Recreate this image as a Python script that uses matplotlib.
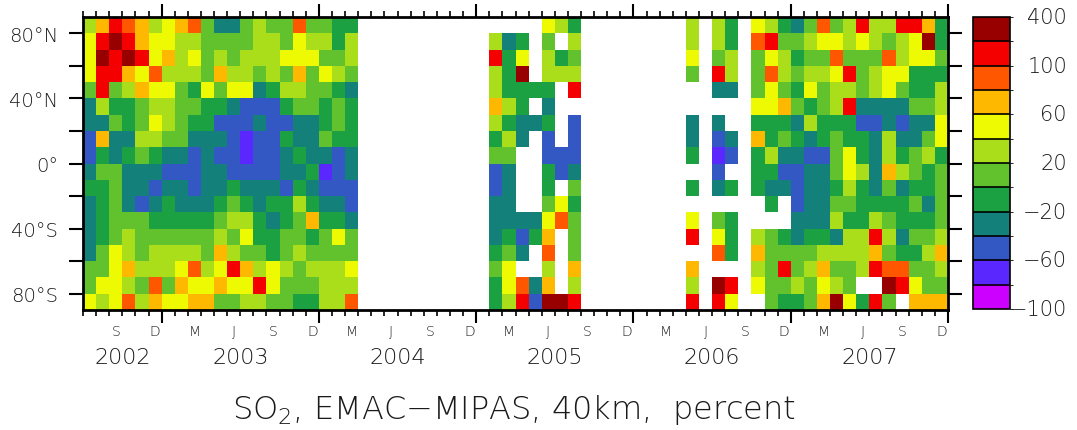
import numpy as np
import matplotlib.pyplot as plt
from matplotlib.colors import ListedColormap, BoundaryNorm

# colour classes of the bar, bottom to top (percent)
levels = [-100, -80, -60, -40, -20, 0, 20, 40, 60, 80, 100, 200, 400]
colors = ['#cc00ff', '#5a28ff', '#3358c4', '#14807a', '#1ba142', '#62c22e',
          '#aade1a', '#eefa02', '#ffb800', '#ff5600', '#f40000', '#980000']
bar_labels = ['−100', '', '−60', '', '−20', '', '20', '', '60', '', '100', '', '400']

# value read off for each colour letter ('.' = no data)
class_value = {'m': -90, 'v': -70, 'b': -50, 't': -30, 'g': -10, 'l': 10,
               'a': 30, 'y': 50, 'o': 70, 'O': 90, 'r': 150, 'd': 300}

# one column per month, Jul 2002 .. Dec 2007
# one row per 10 deg band, 80-90N at the top down to 80-90S
rows = [
    "aorOoayoOlttlallOllgg" ".........." "....yag" "........" "a.ag.yagtlOlaraarrog",
    "yrdroyyaallllaalyaaga" ".........." "atg.l.a" "........" "a.ag.Orllayyayalaydg",
    "ydrdryoaylalaaayyylla" ".........." "rgy.agl" "........" "y.la.lyagllOlllOayyl",
    "yrroyOaaaloaalalolyal" ".........." "agd.aaa" "........" "l.ra.lOalaayrlayyggg",
    "lrlaoyylgylyytgaallgt" ".........." "agggg.r" "........" "..tt.lylgylaalaylgga",
    "tagglaallggtbbbgllglg" ".........." "oag.t.." "........" ".....yyolglarttttlla",
    "ttlglyalggbbbtbbttglg" ".........." "agttg.b" "........" "t.t..gggtagggbbtbtty",
    "bottaalltttbvbbgttlgg" ".........." "gat.b.b" "........" "t.bt.oglgtglggtattly",
    "bgtglgttbtbbvbbtgttbt" ".........." "ll..bbb" "........" "g.vb.gattbblygtaglag",
    "tlltttbbbttbbbbttgvbt" ".........." "bt..gbt" "........" "..b..ggbbttlyatoalgl",
    "gglttbttbttgtttbgtbbb" ".........." "bt..g.l" "........" "g.tg.gttbttgagtltggl",
    "tgltbtgtttglgtggagttb" ".........." "tt..lyg" "........" "......g.bttllggggltl",
    "tglllggggglaagtgloggt" ".........." "ttttyOl" "........" "y.lg....tttaggalgggl",
    "tglallllllalyggllglyl" ".........." "tgbgo.l" "........" "r.yg.algtggtaaratlla",
    "tlyalaaaaloallglallll" ".........." "glt.O.l" "........" "..Og.ollllaaaaolggao",
    "llyoaaayOayroayalaaay" ".........." "ly..a.o" "........" "o....alrlaollarOOlla",
    "lyyalOloyyoyyrylllaaa" ".........." "gyOto.a" "........" "a.dr.yllalyal..dryll",
    "yayOaoyyoollaallggaaO" ".........." "garbddr" "........" "r.ry..lgglodygrl.ooo",
]

years = ['2002', '2003', '2004', '2005', '2006', '2007']
lat_ticks = [-80, -60, -40, -20, 0, 20, 40, 60, 80]
lat_labels = ['80°S', '', '40°S', '', '0°', '', '40°N', '', '80°N']

plt.rcParams['font.family'] = ['DejaVu Sans']
plt.rcParams['font.weight'] = 'light'
txt_color = '#1a1a1a'

# build the grid, bottom row first
grid = np.array([[class_value.get(c, np.nan) for c in r] for r in rows[::-1]])
n_month = grid.shape[1]
x_edges = np.arange(n_month + 1)
y_edges = np.arange(-90, 91, 10)

cmap = ListedColormap(colors)
norm = BoundaryNorm(levels, cmap.N)

fig = plt.figure(figsize=(10.77, 4.31), dpi=100)
ax = fig.add_axes([83 / 1077, 1 - 311 / 431, 865 / 1077, 293 / 431])
mesh = ax.pcolormesh(x_edges, y_edges, np.ma.masked_invalid(grid), cmap=cmap, norm=norm)

ax.set_xlim(0, n_month)
ax.set_ylim(-90, 90)
for s in ax.spines.values():
    s.set_linewidth(2)

# month ticks, long ones at new year
ax.set_xticks(np.arange(6, n_month + 1, 12))
ax.set_xticks(np.arange(0, n_month + 1), minor=True)
ax.set_xticklabels([])
ax.tick_params(axis='x', which='major', length=9.4, width=1.5, top=True, direction='out')
ax.tick_params(axis='x', which='minor', length=4.3, width=1.2, top=True, direction='out')
ax.set_yticks(lat_ticks)
ax.set_yticklabels(lat_labels, fontsize=14, color=txt_color)
ax.tick_params(axis='y', length=10, width=1.5, pad=8, right=True, direction='out')

# month letters under the axis
letters = {2: 'M', 5: 'J', 8: 'S', 11: 'D'}
trans = ax.get_xaxis_transform()
for i in range(n_month):
    m = (6 + i) % 12
    if m in letters:
        ax.text(i + 0.5, -0.072, letters[m], transform=trans, ha='center', va='center',
                fontsize=10, color=txt_color)

year_pos = [3, 12, 24, 36, 48, 60]
for xp, yr in zip(year_pos, years):
    ax.text(xp, -0.16, yr, transform=trans, ha='center', va='center', fontsize=16,
            color=txt_color)

fig.text(0.477, 1 - 410 / 431, 'SO$_2$, EMAC−MIPAS, 40km,  percent', ha='center',
         va='center', fontsize=23, color=txt_color)

# colour bar
cax = fig.add_axes([973 / 1077, 1 - 310 / 431, 37 / 1077, 292 / 431])
cb = fig.colorbar(mesh, cax=cax, spacing='uniform', drawedges=True)
cb.outline.set_linewidth(1.2)
cb.dividers.set_linewidth(1.2)
cb.set_ticks([])
for i, lab in enumerate(bar_labels):
    if lab:
        fig.text(1067 / 1077, cax.get_position().y0 + i / 12 * cax.get_position().height,
                 lab, ha='right', va='center', fontsize=15, color=txt_color)

fig.savefig('out.png', dpi=100)
